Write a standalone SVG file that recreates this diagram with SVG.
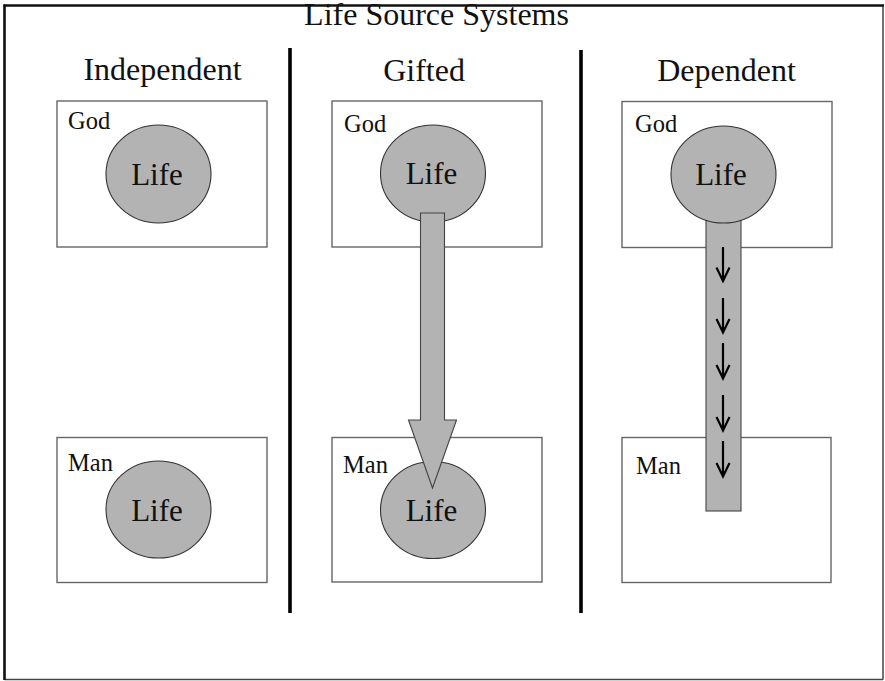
<svg xmlns="http://www.w3.org/2000/svg" width="885" height="681" viewBox="0 0 885 681" font-family="'Liberation Serif', 'DejaVu Serif', serif">
<defs>
<style>
.bg{fill:#ffffff}
.frame{stroke:#111;stroke-width:2.6;fill:none}
.frame2{stroke:#444;stroke-width:1.5;fill:none}
.sep{stroke:#000;stroke-width:3.6}
.box{fill:#ffffff;stroke:#666;stroke-width:1.4}
.life{fill:#b3b3b3;stroke:#333;stroke-width:1.1}
.flow{fill:#b3b3b3;stroke:#444;stroke-width:1.1}
.tick{fill:none;stroke:#000;stroke-width:2.2;stroke-linecap:butt;stroke-linejoin:miter}
.t{font-family:'Liberation Serif', 'DejaVu Serif', serif;fill:#111}
.title{font-size:32px;text-anchor:middle}
.head{font-size:32px;text-anchor:middle}
.lbl{font-size:24.5px}
.lt{font-size:31px;text-anchor:middle}
</style>
</defs>
<rect class="bg" x="0" y="0" width="885" height="681"/>
<g id="frame">
<line class="frame2" x1="883" y1="5.5" x2="883" y2="679.5"/>
<line class="frame2" x1="4.5" y1="679.5" x2="883" y2="679.5"/>
<line class="frame" x1="3.5" y1="5.5" x2="884" y2="5.5"/>
<line class="frame" x1="4.5" y1="4.5" x2="4.5" y2="680"/>
</g>
<text class="t title" x="436.5" y="24.5">Life Source Systems</text>
<g id="separators">
<line class="sep" x1="290" y1="48" x2="290" y2="613"/>
<line class="sep" x1="581" y1="50" x2="581" y2="613"/>
</g>
<text class="t head" x="162.5" y="79.5">Independent</text>
<text class="t head" x="424" y="80.5">Gifted</text>
<text class="t head" x="726.5" y="81">Dependent</text>

<g id="ind-god">
<rect class="box" x="57" y="101" width="210" height="146"/>
<text class="t lbl" x="68" y="128.5">God</text>
<ellipse class="life" cx="158.5" cy="174" rx="52.5" ry="49"/>
<text class="t lt" x="157" y="185">Life</text>
</g>
<g id="ind-man">
<rect class="box" x="57" y="437.5" width="210" height="145"/>
<text class="t lbl" x="68" y="471">Man</text>
<ellipse class="life" cx="158.5" cy="509.5" rx="52.5" ry="48.5"/>
<text class="t lt" x="157" y="520.5">Life</text>
</g>

<g id="gift-god">
<rect class="box" x="332" y="101" width="210" height="146"/>
<text class="t lbl" x="344" y="132">God</text>
<ellipse class="life" cx="433" cy="173.5" rx="52.5" ry="48.5"/>
<text class="t lt" x="431.5" y="184">Life</text>
</g>
<g id="gift-man">
<rect class="box" x="332" y="437.5" width="210" height="144.5"/>
<text class="t lbl" x="343" y="473">Man</text>
<ellipse class="life" cx="433" cy="510" rx="52.5" ry="48.5"/>
<text class="t lt" x="431.5" y="520.5">Life</text>
</g>

<g id="dep-god">
<rect class="box" x="622" y="101.5" width="210" height="146"/>
<text class="t lbl" x="635" y="132">God</text>
</g>
<g id="dep-man">
<rect class="box" x="622" y="437.5" width="209" height="145"/>
<text class="t lbl" x="636" y="474">Man</text>
</g>

<g id="connectors">
<polygon class="flow" points="420.5,213 444.5,213 444.5,420 456.5,420 432.5,488 408.5,420 420.5,420"/>
<rect class="flow" x="706" y="200" width="35" height="311"/>
</g>

<g id="dep-god-life">
<ellipse class="life" cx="723.5" cy="174.5" rx="52.5" ry="48.5"/>
<text class="t lt" x="721" y="184.5">Life</text>
</g>

<g id="flow-ticks">
<path class="tick" d="M723,247V280.5M716.5,267.5L723,281L729.5,267.5"/>
<path class="tick" d="M723,298V332M716.5,319L723,332.5L729.5,319"/>
<path class="tick" d="M723,343V378M716.5,365L723,378.5L729.5,365"/>
<path class="tick" d="M723,395V430M716.5,417L723,430.5L729.5,417"/>
<path class="tick" d="M723,441V476M716.5,463L723,476.5L729.5,463"/>
</g>
</svg>
